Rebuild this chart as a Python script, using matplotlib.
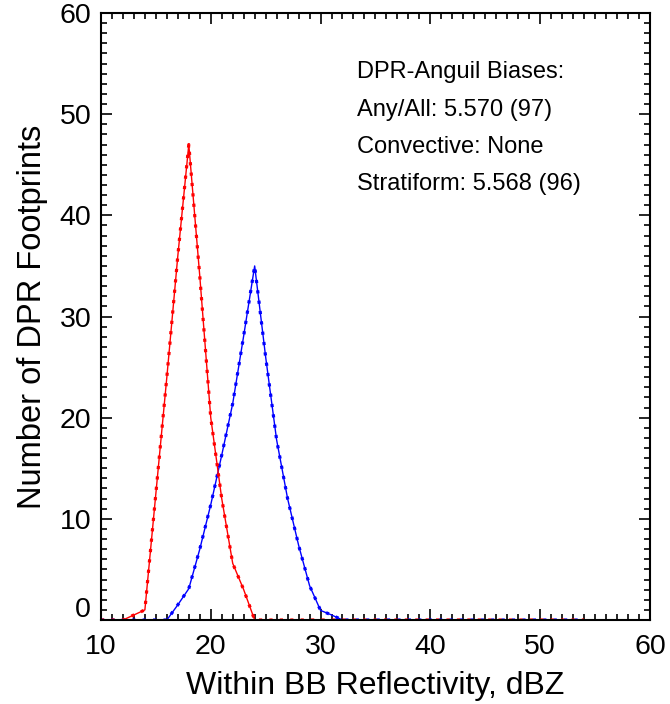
import matplotlib
matplotlib.use("Agg")
import matplotlib.pyplot as plt
from matplotlib.ticker import MultipleLocator, FuncFormatter

plt.rcParams['font.family'] = ['Liberation Sans', 'DejaVu Sans']
plt.rcParams['lines.scale_dashes'] = False

# reflectivity bins (dBZ)
dbz = list(range(10, 55))

# counts per bin
red_counts = [0, 0, 0, 0.5, 1.0, 12.5, 24, 36, 47, 34, 20, 12, 5.6, 3.0, 0] + [0] * 30
blue_counts = [0, 0, 0, 0, 0, 0, 0, 1.5, 3.1, 7.0, 11.4, 16.3, 21.4, 28.1, 35,
               26, 17.8, 12, 7.4, 3.4, 0.95, 0.5, 0] + [0] * 22

bias_lines = ["DPR-Anguil Biases:",
              "Any/All: 5.570 (97)",
              "Convective: None",
              "Stratiform: 5.568 (96)"]

fig = plt.figure(figsize=(6.70, 7.04), dpi=100)
ax = fig.add_axes([0.1507, 0.1193, 0.8193, 0.8622])

# thin line plus small square dots spaced along the path
for counts, col in [(blue_counts, 'blue'), (red_counts, 'red')]:
    ax.plot(dbz, counts, color=col, lw=1.0)
    ax.plot(dbz, counts, color=col, lw=2.3, dashes=(2.3, 5.2),
            dash_capstyle='butt')

ax.set_xlim(10, 60)
ax.set_ylim(0, 60)
ax.xaxis.set_major_locator(MultipleLocator(10))
ax.xaxis.set_minor_locator(MultipleLocator(1))
ax.yaxis.set_major_locator(MultipleLocator(10))
ax.yaxis.set_minor_locator(MultipleLocator(1))
ax.tick_params(which='both', direction='in', top=True, right=True,
               labelsize=20.5, color='black')
ax.tick_params(which='major', length=8, width=1.2)
ax.tick_params(which='minor', length=4, width=1.2)
ax.tick_params(axis='x', which='major', pad=10)
ax.tick_params(axis='y', which='major', pad=7)
for sp in ax.spines.values():
    sp.set_linewidth(1.5)

# the zero label sits a little above the axis in the original, so draw it apart
ax.yaxis.set_major_formatter(FuncFormatter(lambda v, p: '' if v == 0 else '%d' % v))
ax.annotate('0', xy=(0, 0), xycoords=('axes fraction', 'data'),
            xytext=(-7, 7.2), textcoords='offset points',
            ha='right', va='center', fontsize=20.5)

ax.set_xlabel('Within BB Reflectivity, dBZ', fontsize=23, labelpad=8)
ax.set_ylabel('Number of DPR Footprints', fontsize=23.5, labelpad=8)

for i, s in enumerate(bias_lines):
    ax.text(0.4657, 0.8924 - i * 0.0613, s, transform=ax.transAxes,
            fontsize=17, va='baseline', ha='left')

fig.savefig('out.png', dpi=100)
